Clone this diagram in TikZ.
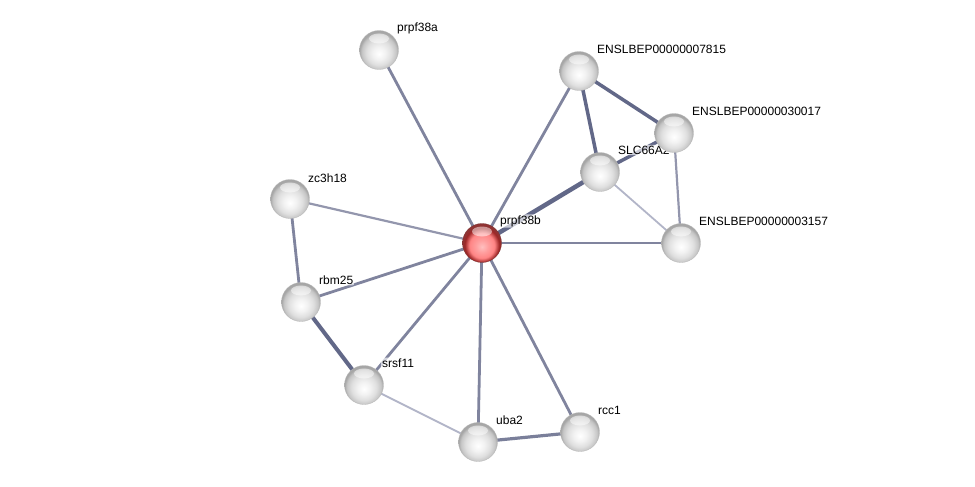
\documentclass[tikz,border=0pt]{standalone}
\usepackage{fontspec}
\setmainfont{Liberation Sans}
\usetikzlibrary{calc, shadings}
\definecolor{linkcol}{RGB}{128,132,158}
\definecolor{weakcol}{RGB}{178,181,200}
\definecolor{strongcol}{RGB}{98,104,136}
\pgfdeclareradialshading{protball}{\pgfqpoint{0bp}{-5bp}}{color(0bp)=(white); color(8bp)=(gray!10); color(16bp)=(gray!25); color(22bp)=(gray!45); color(25bp)=(gray!70); color(50bp)=(gray!70)}
\pgfdeclareradialshading{queryball}{\pgfqpoint{0bp}{-5bp}}{color(0bp)=(red!25); color(8bp)=(red!38); color(16bp)=(red!48); color(22bp)=(red!55!black!85); color(25bp)=(red!45!black!80); color(50bp)=(red!45!black!80)}
\pgfdeclarelayer{edgelayer}
\pgfdeclarelayer{textlayer}
\pgfsetlayers{edgelayer,textlayer,main}
\tikzstyle{prot} = [circle, minimum size=39pt, inner sep=0pt, shading=protball, draw=gray!55, line width=0.3pt, path picture={\fill[white, opacity=0.5] ([yshift=-8pt]path picture bounding box.north) ellipse (10pt and 5pt);}]
\tikzstyle{query} = [prot, shading=queryball, draw=red!35!black!80]
\tikzstyle{lbl} = [anchor=west, font=\fontsize{12}{13}\selectfont, fill=white, fill opacity=0.65, text opacity=1, inner sep=1pt, rounded corners=2pt]
\tikzstyle{lnk} = [line width=2.8pt, linkcol]
\tikzstyle{weak} = [line width=1.8pt, weakcol]
\tikzstyle{strong} = [line width=3.5pt, strongcol]

\begin{document}
\begin{tikzpicture}[x=1pt, y=-1pt]
        \useasboundingbox (0,0) rectangle (975,487);
        % proteins
        \node (prpf38b) [query] at (482,243) {};
        \node (prpf38a) [prot] at (379,50) {};
        \node (ensl7815) [prot] at (579,71) {};
        \node (slc66a) [prot] at (600,172) {};
        \node (ensl30017) [prot] at (674,133) {};
        \node (zc3h18) [prot] at (290,199) {};
        \node (ensl3157) [prot] at (681,243) {};
        \node (rbm25) [prot] at (301,302) {};
        \node (srsf11) [prot] at (364,385) {};
        \node (uba2) [prot] at (478,442) {};
        \node (rcc1) [prot] at (580,432) {};

        % names
        \begin{pgfonlayer}{textlayer}
        \node (prpf38b-t) [lbl] at ($(prpf38b)+(17,-22)$) {prpf38b};
        \node (prpf38a-t) [lbl] at ($(prpf38a)+(17,-22)$) {prpf38a};
        \node (ensl7815-t) [lbl] at ($(ensl7815)+(17,-22)$) {ENSLBEP00000007815};
        \node (slc66a-t) [lbl] at ($(slc66a)+(17,-22)$) {SLC66A2};
        \node (ensl30017-t) [lbl] at ($(ensl30017)+(17,-22)$) {ENSLBEP00000030017};
        \node (zc3h18-t) [lbl] at ($(zc3h18)+(17,-21)$) {zc3h18};
        \node (ensl3157-t) [lbl] at ($(ensl3157)+(17,-22)$) {ENSLBEP00000003157};
        \node (rbm25-t) [lbl] at ($(rbm25)+(17,-22)$) {rbm25};
        \node (srsf11-t) [lbl] at ($(srsf11)+(17,-22)$) {srsf11};
        \node (uba2-t) [lbl] at ($(uba2)+(17,-22)$) {uba2};
        \node (rcc1-t) [lbl] at ($(rcc1)+(17,-22)$) {rcc1};
        \end{pgfonlayer}

        % links
        \begin{pgfonlayer}{edgelayer}
        \draw [lnk] (prpf38b.center) -- (prpf38a.center);
        \draw [lnk] (prpf38b.center) -- (ensl7815.center);
        \draw [strong, line width=4.5pt] (prpf38b.center) -- (slc66a.center);
        \draw [lnk] (prpf38b.center) -- (ensl3157.center);
        \draw [lnk, line width=2.2pt, linkcol!85] (prpf38b.center) -- (zc3h18.center);
        \draw [lnk] (prpf38b.center) -- (rbm25.center);
        \draw [lnk] (prpf38b.center) -- (srsf11.center);
        \draw [lnk] (prpf38b.center) -- (uba2.center);
        \draw [lnk] (prpf38b.center) -- (rcc1.center);
        \draw [strong] (ensl7815.center) -- (ensl30017.center);
        \draw [strong] (ensl7815.center) -- (slc66a.center);
        \draw [strong] (slc66a.center) -- (ensl30017.center);
        \draw [lnk, line width=2.2pt, linkcol!85] (ensl30017.center) -- (ensl3157.center);
        \draw [weak] (slc66a.center) -- (ensl3157.center);
        \draw [lnk] (zc3h18.center) -- (rbm25.center);
        \draw [strong, line width=4pt] (rbm25.center) -- (srsf11.center);
        \draw [weak] (srsf11.center) -- (uba2.center);
        \draw [strong, line width=3.2pt, strongcol!85] (uba2.center) -- (rcc1.center);
        \end{pgfonlayer}
\end{tikzpicture}
\end{document}
